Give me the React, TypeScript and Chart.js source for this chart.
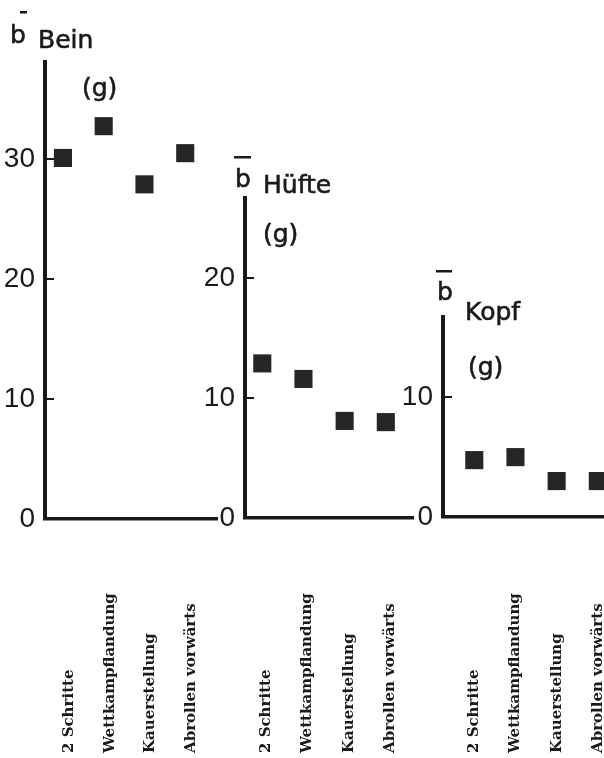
import React, { useEffect, useRef } from 'react';
import { Chart, registerables } from 'chart.js';

Chart.register(...registerables);

// ---- data ----
const CATEGORIES = ['2 Schritte', 'Wettkampflandung', 'Kauerstellung', 'Abrollen vorwärts'];
const PANEL_NAMES = ['Bein', 'Hüfte', 'Kopf'];
const BEIN_VALUES = [30.1, 32.75, 27.9, 30.5];
const HUEFTE_VALUES = [12.9, 11.6, 8.1, 8.0];
const KOPF_VALUES = [4.75, 5.0, 3.0, 3.0];
const BEIN_TICKS = [0, 10, 20, 30];
const HUEFTE_TICKS = [0, 10, 20];
const KOPF_TICKS = [0, 10];
const Y_MAX = [38.1, 26.7, 16.7];
const MEAN_SYMBOL = 'b';
const UNIT_LABEL = '(g)';

const PANEL_VALUES = [BEIN_VALUES, HUEFTE_VALUES, KOPF_VALUES];
const PANEL_TICKS = [BEIN_TICKS, HUEFTE_TICKS, KOPF_TICKS];

// ---- layout / style ----
const INK = '#1a1a1a';
const SANS = '"DejaVu Sans", sans-serif';
const TICK_SANS = '"Liberation Sans", Arial, sans-serif';
const SERIF = '"DejaVu Serif", serif';
const LABEL_BASE_Y = 753;

const LAYOUT = [
  { left: 0, width: 235, yWidth: 45, top: 62, bottom: 519, padRight: 18, xMin: -0.44, xMax: 3.78,
    b: [-35, -19], bar: [10, -51, 7], name: [-7, -14], unit: [37, 34], labelShift: 6 },
  { left: 200, width: 230, yWidth: 45, top: 198, bottom: 518, padRight: 17, xMin: -0.42, xMax: 3.66,
    b: [-10, -11], bar: [-1, -42, 17], name: [18, -5], unit: [18, 44], labelShift: 4 },
  { left: 400, width: 204, yWidth: 43, top: 317, bottom: 517, padRight: 0, xMin: -0.76, xMax: 3.15,
    b: [-6, -17], bar: [-1, -47, 16], name: [22, 3], unit: [25, 58], labelShift: 0 },
];

function heavyText(ctx: CanvasRenderingContext2D, s: string, x: number, y: number) {
  ctx.fillText(s, x, y);
  ctx.strokeText(s, x, y);
}

function makeTextPlugin(i: number) {
  return {
    id: 'panelText' + i,
    afterDraw(chart: any) {
      const ctx = chart.ctx as CanvasRenderingContext2D;
      const { left, top } = chart.chartArea;
      const L = LAYOUT[i];
      ctx.save();
      ctx.fillStyle = INK;
      ctx.strokeStyle = INK;
      ctx.lineWidth = 0.6;
      ctx.font = `25px ${SANS}`;
      ctx.textAlign = 'left';
      ctx.textBaseline = 'alphabetic';
      heavyText(ctx, MEAN_SYMBOL, left + L.b[0], top + L.b[1]);
      ctx.fillRect(left + L.b[0] + L.bar[0], top + L.bar[1], L.bar[2], 2.5);
      heavyText(ctx, PANEL_NAMES[i], left + L.name[0], top + L.name[1]);
      heavyText(ctx, UNIT_LABEL, left + L.unit[0], top + L.unit[1]);

      const xs = chart.scales.x;
      ctx.font = `bold 15px ${SERIF}`;
      ctx.textBaseline = 'middle';
      CATEGORIES.forEach((c, k) => {
        const px = xs.getPixelForValue(k) + L.labelShift;
        ctx.save();
        ctx.translate(px, LABEL_BASE_Y);
        ctx.rotate(-Math.PI / 2);
        ctx.textAlign = 'left';
        ctx.fillText(c, 0, 0);
        ctx.restore();
      });
      ctx.restore();
    },
  };
}

function Panel({ index }: { index: number }) {
  const ref = useRef<HTMLCanvasElement>(null);
  useEffect(() => {
    const L = LAYOUT[index];
    const ticks = PANEL_TICKS[index];
    const chart = new Chart(ref.current as HTMLCanvasElement, {
      type: 'scatter',
      data: {
        datasets: [
          {
            data: PANEL_VALUES[index].map((v, k) => ({ x: k, y: v })),
            pointStyle: 'rect',
            pointRadius: 12.8,
            pointHoverRadius: 12.8,
            backgroundColor: '#262626',
            borderWidth: 0,
            showLine: false,
            clip: false as any,
          },
        ],
      },
      options: {
        responsive: false,
        animation: false,
        events: [],
        layout: {
          autoPadding: false,
          padding: { top: L.top, left: 0, right: L.padRight, bottom: 758 - L.bottom },
        },
        plugins: { legend: { display: false }, tooltip: { enabled: false }, title: { display: false } },
        scales: {
          x: {
            type: 'linear',
            min: L.xMin,
            max: L.xMax,
            grid: { display: false, drawTicks: false },
            border: { display: true, color: INK, width: 3.5 },
            ticks: { display: false },
            afterFit: (s: any) => { s.height = 0; },
          },
          y: {
            type: 'linear',
            min: 0,
            max: Y_MAX[index],
            grid: { display: true, drawOnChartArea: false, drawTicks: true, tickLength: -9, color: INK, lineWidth: 2 },
            border: { display: true, color: INK, width: 4 },
            ticks: { color: INK, padding: 19, font: { family: TICK_SANS, size: 28 } },
            afterBuildTicks: (s: any) => { s.ticks = ticks.map((v) => ({ value: v })); },
            afterFit: (s: any) => { s.width = L.yWidth; },
          },
        },
      },
      plugins: [makeTextPlugin(index)],
    } as any);
    return () => chart.destroy();
  }, [index]);
  const L = LAYOUT[index];
  return (
    <div style={{ position: 'absolute', left: L.left, top: 0, width: L.width, height: 758 }}>
      <canvas ref={ref} width={L.width} height={758} style={{ display: 'block' }} />
    </div>
  );
}

export default function App() {
  return (
    <div style={{ position: 'absolute', left: 0, top: 0, width: 604, height: 758, background: '#fff', overflow: 'hidden' }}>
      <Panel index={0} />
      <Panel index={1} />
      <Panel index={2} />
    </div>
  );
}
